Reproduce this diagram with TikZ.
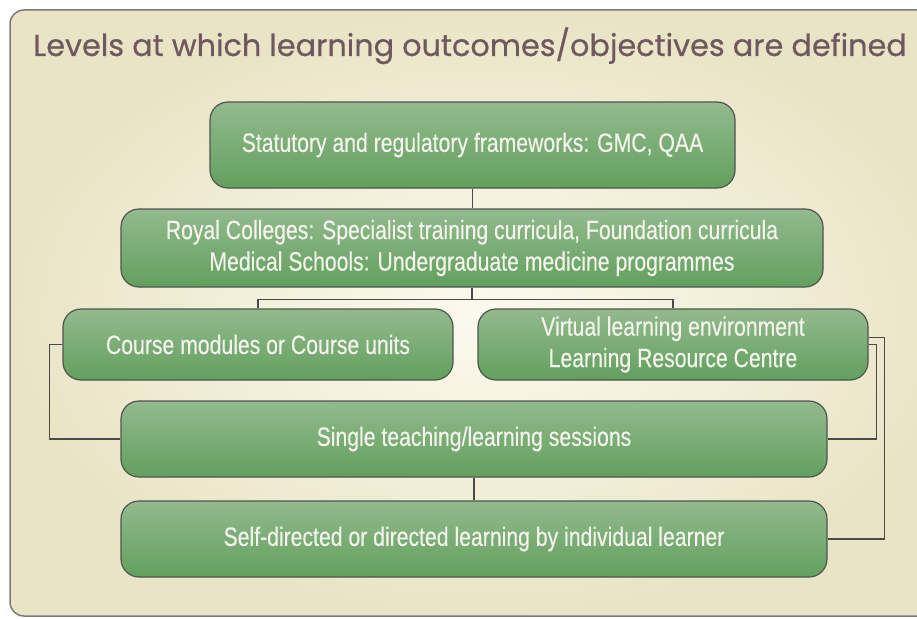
\documentclass[tikz,border=0pt]{standalone}
\usepackage{fontspec}
\usetikzlibrary{calc}
\newfontfamily\boxfont{Liberation Sans}[FakeStretch=0.80,FakeBold=0.3]
\newfontfamily\titlefont{Poppins}[FakeBold=0.6]
\definecolor{bglight}{HTML}{FCFAEE}
\definecolor{bgdark}{HTML}{EAE4C6}
\definecolor{framecol}{HTML}{7A7A7A}
\definecolor{greentop}{HTML}{93BA8E}
\definecolor{greenbot}{HTML}{62A05E}
\definecolor{boxedge}{HTML}{4E564E}
\definecolor{boxtext}{HTML}{F4F4EC}
\definecolor{linecol}{HTML}{4A4A4A}
\definecolor{titlecol}{HTML}{70585F}
\begin{document}
\begin{tikzpicture}[x=1pt,y=-1pt,
  greenbox/.style={draw=boxedge, line width=1.2pt, rounded corners=18pt,
    top color=greentop, bottom color=greenbot, text=boxtext,
    font=\boxfont\fontsize{26.5}{31.5}\selectfont, align=center, inner sep=0pt},
  conn/.style={draw=linecol, line width=1.4pt}]
\useasboundingbox (0,0) rectangle (917,618);
\clip (0,0) rectangle (917,618);
\fill[white] (0,0) rectangle (917,618);
\shade[inner color=bglight, outer color=bgdark, rounded corners=14pt] (10,10) rectangle (960,616);
\draw[framecol, line width=1.5pt, rounded corners=14pt] (10,10) rectangle (960,616);

\node[anchor=base west, text=titlecol, font=\titlefont\fontsize{30.3}{32}\selectfont, inner sep=0pt] (title) at (33,56) {Levels at which learning outcomes/objectives are defined};

\node[greenbox, minimum width=525pt, minimum height=86pt] (A) at (472.5,145) {Statutory and regulatory frameworks: GMC, QAA};
\node[greenbox, minimum width=702pt, minimum height=78pt] (B) at (472,248) {Royal Colleges: Specialist training curricula, Foundation curricula\\Medical Schools: Undergraduate medicine programmes};
\node[greenbox, minimum width=390pt, minimum height=71pt] (C) at (258,344.5) {Course modules or Course units};
\node[greenbox, minimum width=390pt, minimum height=71pt] (D) at (673,344.5) {Virtual learning environment\\Learning Resource Centre};
\node[greenbox, minimum width=706pt, minimum height=76pt] (E) at (474,439) {Single teaching/learning sessions};
\node[greenbox, minimum width=706pt, minimum height=76pt] (F) at (474,539) {Self-directed or directed learning by individual learner};

\coordinate (br) at ($(B.south)+(0,12)$);
\draw[conn] (A.south) -- (A.south |- B.north);
\draw[conn] (B.south) -- (br);
\draw[conn] (C.north) |- (br) -| (D.north);
\draw[conn] (C.west) -- ++(-13,0) |- (E.west);
\draw[conn] (D.east) -- ++(8,0) |- (E.east);
\draw[conn] ([yshift=7pt]D.east) -- ++(16,0) |- (F.east);
\draw[conn] (E.south) -- (F.north);
\end{tikzpicture}
\end{document}
